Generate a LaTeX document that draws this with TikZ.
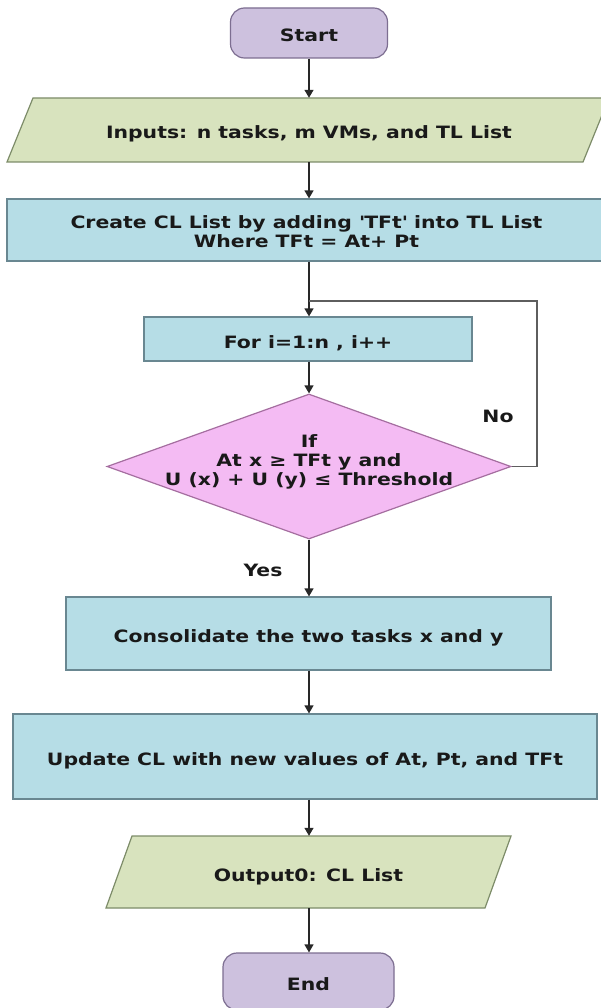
\documentclass[tikz,border=0pt]{standalone}
\usepackage{fontspec}
\setmainfont{DejaVu Sans}[FakeStretch=1.2]
\usetikzlibrary{arrows.meta,shapes.geometric}
\definecolor{lav}{RGB}{205,193,222}
\definecolor{lavd}{RGB}{125,110,145}
\definecolor{grn}{RGB}{216,227,190}
\definecolor{grnd}{RGB}{125,140,105}
\definecolor{blu}{RGB}{182,221,230}
\definecolor{blud}{RGB}{105,135,145}
\definecolor{pnk}{RGB}{244,187,243}
\definecolor{pnkd}{RGB}{165,110,160}
\definecolor{ln}{RGB}{40,40,40}
\begin{document}
\begin{tikzpicture}[x=1pt,y=-1pt,
 txt/.style={font=\fontsize{17}{19}\selectfont\bfseries, text=black!90, align=center, inner sep=0pt},
 boxtxt/.style={txt, execute at begin node={\rule[-4pt]{0pt}{26pt}}},
 term/.style={boxtxt, draw=lavd, fill=lav, rounded corners=14pt, line width=1.2pt},
 shp/.style={draw=blud, fill=blu, line width=1.2pt},
 proc/.style={boxtxt, shp},
 io/.style={draw=grnd, fill=grn, line width=1.2pt},
 dec/.style={diamond, draw=pnkd, fill=pnk, line width=1.2pt, inner sep=0pt},
 arr/.style={draw=ln, line width=1.3pt, -{Triangle[width=9pt,length=8pt]}},
 lnk/.style={draw=ln!75, line width=1.3pt}
]
\useasboundingbox (0,0) rectangle (601,1008);
\clip (0,0) rectangle (601,1008);
\fill[white] (0,0) rectangle (601,1008);

% parallelogram shapes
\path[io] (33,98) -- (609,98) -- (583,162) -- (7,162) -- cycle;
\path[io] (132,836) -- (511,836) -- (485,908) -- (106,908) -- cycle;

\node[term, minimum width=157pt, minimum height=50pt] (start) at (309,33) {Start};
\node[boxtxt, minimum width=560pt, minimum height=64pt] (in) at (309,130) {Inputs: n tasks, m VMs, and TL List};
\node[txt, shp, minimum width=599pt, minimum height=62pt] (create) at (306.5,230) {\rule{0pt}{17pt}Create CL List by adding \textquotesingle TFt\textquotesingle{} into TL List\\Where TFt = At+ Pt};
\node[proc, minimum width=328pt, minimum height=44pt] (forb) at (308,339) {For i=1:n , i++};
\node[dec, minimum width=404pt, minimum height=145pt] (dia) at (309,466.5) {};
\node[txt] (dtext) at (309,462) {If\\At x ≥ TFt y and\\U (x) + U (y) ≤ Threshold};
\node[proc, minimum width=485pt, minimum height=73pt] (cons) at (308.5,633.5) {Consolidate the two tasks x and y};
\node[proc, minimum width=584pt, minimum height=85pt] (upd) at (305,756.5) {Update CL with new values of At, Pt, and TFt};
\node[boxtxt, minimum width=380pt, minimum height=72pt] (out) at (308.5,872) {Output0: CL List};
\node[term, minimum width=171pt, minimum height=57pt] (end) at (308.5,981.5) {End};

\coordinate (loopR) at (537,301);
\coordinate (join) at (309,301);

\draw[arr] (start.south) -- (start.south |- in.north);
\draw[arr] (in.south) -- (in.south |- create.north);
\draw[arr] (dia.north |- create.south) -- (dia.north |- forb.north);
\draw[lnk] (dia.east) -- (dia.east -| loopR) -- node[txt, pos=0.3, xshift=-39pt] {No} (loopR) -- (join);
\draw[arr] (dia.north |- forb.south) -- (dia.north);
\draw[arr] (dia.south) -- node[txt, pos=0.55, xshift=-46pt] {Yes} (dia.south |- cons.north);
\draw[arr] (dia.south |- cons.south) -- (dia.south |- upd.north);
\draw[arr] (dia.south |- upd.south) -- (dia.south |- out.north);
\draw[arr] (dia.south |- out.south) -- (dia.south |- end.north);
\end{tikzpicture}
\end{document}
